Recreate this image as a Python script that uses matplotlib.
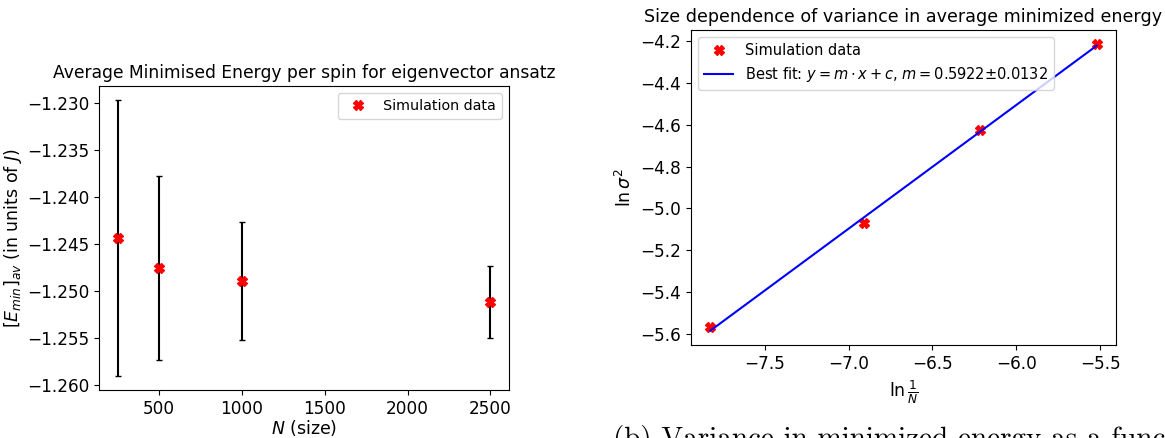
import numpy as np
import matplotlib
matplotlib.use("Agg")
import matplotlib.pyplot as plt

# left panel: average minimised energy vs size
N = [250, 500, 1000, 2500]
E_av = [-1.2444, -1.2476, -1.2490, -1.2512]
E_err = [0.0147, 0.0098, 0.0063, 0.0038]

# right panel: ln(variance) vs ln(1/N)
ln_inv_N = [-5.521, -6.215, -6.908, -7.824]
ln_var = [-4.215, -4.625, -5.070, -5.570]
m_fit, c_fit, m_err = 0.5922, -0.952, 0.0132

W, H = 1165, 438
fig = plt.figure(figsize=(W / 100, H / 100), dpi=100)

ax1 = fig.add_axes([99 / W, (H - 390) / H, 410 / W, 304 / H])
ax1.errorbar(N, E_av, yerr=E_err, fmt="none", ecolor="black", capsize=2)
ax1.plot(N, E_av, "X", color="red", markersize=6.5, label="Simulation data")
ax1.set_title("Average Minimised Energy per spin for eigenvector ansatz", fontsize=12.3)
ax1.set_xlabel(r"$N$ (size)", fontsize=12.5, labelpad=0)
ax1.set_ylabel(r"$[E_{min}]_{av}$ (in units of $J$)", fontsize=12.5, labelpad=2)
ax1.tick_params(labelsize=12.2)
ax1.legend(loc="upper right", fontsize=10.3)

ax2 = fig.add_axes([691 / W, (H - 345) / H, 425 / W, 315 / H])
ax2.plot(ln_inv_N, ln_var, "X", color="red", markersize=6.5, label="Simulation data")
xs = np.array([min(ln_inv_N), max(ln_inv_N)])
ax2.plot(xs, m_fit * xs + c_fit, color="blue",
         label=r"Best fit: $y=m\cdot x+c$, $m=%.4f$±%.4f" % (m_fit, m_err))
ax2.set_title("Size dependence of variance in average minimized energy", fontsize=12.6)
ax2.set_xlabel(r"$\ln\frac{1}{N}$", fontsize=12.5)
ax2.set_ylabel(r"$\ln\sigma^2$", fontsize=12.5)
ax2.tick_params(labelsize=12.2)
ax2.legend(loc="upper left", fontsize=10.5)

fig.text(613 / W, -9 / H, "(b) Variance in minimized energy as a function of size",
         family="cmr10", fontsize=21, va="baseline", ha="left")

fig.savefig("out.png", dpi=100)
